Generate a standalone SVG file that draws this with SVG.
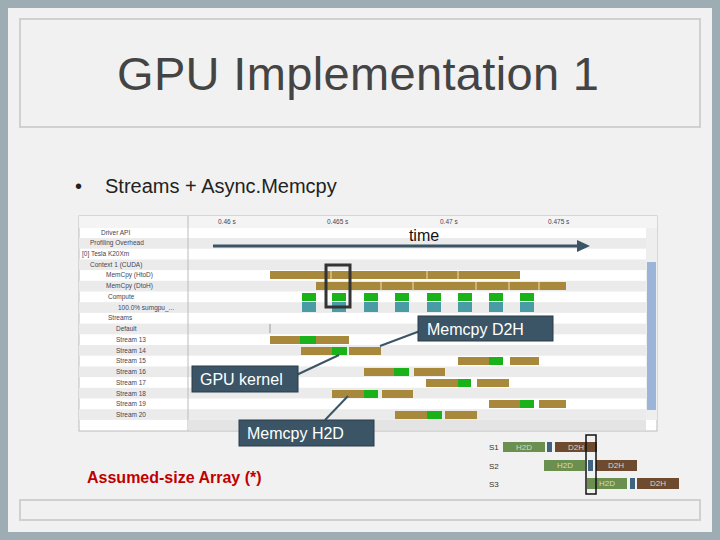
<svg xmlns="http://www.w3.org/2000/svg" width="720" height="540" viewBox="0 0 720 540">
<style>
text{font-family:"Liberation Sans",Arial,sans-serif}
.lbl{font-size:6.5px;fill:#445}
.br{fill:#a8883a}
.gr{fill:#19b219}
.tl{fill:#4a9ca4}
.co{fill:#3b5566;stroke:#2a3d49;stroke-width:1}
.ct{fill:#fff;font-size:16px}
.ln{stroke:#3b5566;stroke-width:2}
</style>
<rect width="720" height="540" fill="#9eadb4"/>
<rect x="8" y="8" width="704" height="524" fill="#f1f1f1"/>
<rect x="20" y="19" width="680" height="108" fill="none" stroke="#d0d0d0" stroke-width="2"/>
<rect x="20" y="500" width="680" height="20" fill="none" stroke="#d0d0d0" stroke-width="2"/>
<text x="358" y="90" font-size="47" fill="#444" text-anchor="middle" textLength="482">GPU Implementation 1</text>
<text x="75" y="193" font-size="20" fill="#222">•</text>
<text x="105" y="193" font-size="20" fill="#222">Streams + Async.Memcpy</text>

<g id="profiler">
<rect x="79" y="216" width="578" height="215" fill="#fff" stroke="#bbb"/>
<rect x="79" y="216" width="578" height="12" fill="#f4f4f4"/>
<g fill="#ebebeb">
<rect x="79" y="238" width="567" height="10.7"/><rect x="79" y="259.4" width="567" height="10.7"/>
<rect x="79" y="280.8" width="567" height="10.7"/><rect x="79" y="302.2" width="567" height="10.7"/>
<rect x="79" y="323.6" width="567" height="10.7"/><rect x="79" y="345" width="567" height="10.7"/>
<rect x="79" y="366.4" width="567" height="10.7"/><rect x="79" y="387.8" width="567" height="10.7"/>
<rect x="79" y="409.2" width="567" height="10.7"/>
</g>
<line x1="188" y1="216" x2="188" y2="431" stroke="#bbb"/>
<rect x="646" y="228" width="11" height="192" fill="#eee"/>
<rect x="647" y="262" width="9" height="148" fill="#9bb4d8"/>
<rect x="188" y="420" width="458" height="10" fill="#e4e4e4"/>
<text x="218" y="224" class="lbl">0.46 s</text><text x="327" y="224" class="lbl">0.465 s</text>
<text x="440" y="224" class="lbl">0.47 s</text><text x="548" y="224" class="lbl">0.475 s</text>
<text x="101" y="235" class="lbl">Driver API</text>
<text x="90" y="245" class="lbl">Profiling Overhead</text>
<text x="82" y="256" class="lbl">[0] Tesla K20Xm</text>
<text x="90" y="267" class="lbl">Context 1 (CUDA)</text>
<text x="106" y="277" class="lbl">MemCpy (HtoD)</text>
<text x="106" y="288" class="lbl">MemCpy (DtoH)</text>
<text x="108" y="299" class="lbl">Compute</text>
<text x="118" y="310" class="lbl">100.0% sumgpu_...</text>
<text x="108" y="320" class="lbl">Streams</text>
<text x="116" y="331" class="lbl">Default</text>
<text x="116" y="342" class="lbl">Stream 13</text><text x="116" y="353" class="lbl">Stream 14</text>
<text x="116" y="363" class="lbl">Stream 15</text><text x="116" y="374" class="lbl">Stream 16</text>
<text x="116" y="385" class="lbl">Stream 17</text><text x="116" y="396" class="lbl">Stream 18</text>
<text x="116" y="406" class="lbl">Stream 19</text><text x="116" y="417" class="lbl">Stream 20</text>

<rect class="br" x="270" y="271" width="250" height="8"/>
<rect class="br" x="316" y="282" width="250" height="8"/>
<g stroke="#f0e0b0" stroke-width="1">
<line x1="331" y1="271" x2="331" y2="279"/><line x1="427" y1="271" x2="427" y2="279"/><line x1="458" y1="271" x2="458" y2="279"/>
<line x1="381" y1="282" x2="381" y2="290"/><line x1="413" y1="282" x2="413" y2="290"/><line x1="476" y1="282" x2="476" y2="290"/><line x1="509" y1="282" x2="509" y2="290"/><line x1="539" y1="282" x2="539" y2="290"/>
</g>
<g>
<rect class="gr" x="302" y="293" width="14" height="8"/><rect class="tl" x="302" y="302" width="14" height="10"/>
<rect class="gr" x="332" y="293" width="14" height="8"/><rect class="tl" x="332" y="302" width="14" height="10"/>
<rect class="gr" x="364" y="293" width="14" height="8"/><rect class="tl" x="364" y="302" width="14" height="10"/>
<rect class="gr" x="395" y="293" width="14" height="8"/><rect class="tl" x="395" y="302" width="14" height="10"/>
<rect class="gr" x="427" y="293" width="14" height="8"/><rect class="tl" x="427" y="302" width="14" height="10"/>
<rect class="gr" x="458" y="293" width="14" height="8"/><rect class="tl" x="458" y="302" width="14" height="10"/>
<rect class="gr" x="489" y="293" width="14" height="8"/><rect class="tl" x="489" y="302" width="14" height="10"/>
<rect class="gr" x="520" y="293" width="14" height="8"/><rect class="tl" x="520" y="302" width="14" height="10"/>
</g>
<rect x="326" y="265" width="24" height="42" fill="none" stroke="#333" stroke-width="3"/>
<line x1="270" y1="324" x2="270" y2="333" stroke="#999"/>
<g>
<rect class="br" x="270" y="336" width="30" height="8"/><rect class="gr" x="300" y="336" width="16" height="8"/><rect class="br" x="316" y="336" width="33" height="8"/>
<rect class="br" x="301" y="347" width="31" height="8"/><rect class="gr" x="332" y="347" width="15" height="8"/><rect class="br" x="349" y="347" width="32" height="8"/>
<rect class="br" x="458" y="357" width="31" height="8"/><rect class="gr" x="489" y="357" width="14" height="8"/><rect class="br" x="510" y="357" width="29" height="8"/>
<rect class="br" x="364" y="368" width="30" height="8"/><rect class="gr" x="394" y="368" width="15" height="8"/><rect class="br" x="414" y="368" width="31" height="8"/>
<rect class="br" x="426" y="379" width="32" height="8"/><rect class="gr" x="458" y="379" width="13" height="8"/><rect class="br" x="477" y="379" width="32" height="8"/>
<rect class="br" x="332" y="390" width="32" height="8"/><rect class="gr" x="364" y="390" width="14" height="8"/><rect class="br" x="382" y="390" width="31" height="8"/>
<rect class="br" x="489" y="400" width="31" height="8"/><rect class="gr" x="520" y="400" width="14" height="8"/><rect class="br" x="539" y="400" width="27" height="8"/>
<rect class="br" x="395" y="411" width="32" height="8"/><rect class="gr" x="427" y="411" width="15" height="8"/><rect class="br" x="445" y="411" width="32" height="8"/>
</g>
</g>

<g id="time">
<line x1="213" y1="246" x2="580" y2="246" stroke="#3b5566" stroke-width="3"/>
<polygon points="577,240 590,246 577,252" fill="#3b5566"/>
<text x="424" y="241" font-size="16" fill="#111" text-anchor="middle">time</text>
</g>

<g id="connectors">
<line class="ln" x1="420" y1="331" x2="380" y2="346"/>
<line class="ln" x1="290" y1="378" x2="339" y2="355"/>
<line class="ln" x1="325" y1="420" x2="348" y2="396"/>
</g>
<g id="d2h"><rect class="co" x="418" y="316" width="135" height="25"/><text class="ct" x="427" y="335">Memcpy D2H</text></g>
<g id="kernel"><rect class="co" x="192" y="366" width="106" height="26"/><text class="ct" x="200" y="385">GPU kernel</text></g>
<g id="h2d"><rect class="co" x="239" y="420" width="135" height="26"/><text class="ct" x="247" y="439">Memcpy H2D</text></g>

<text x="87" y="483" font-size="16" font-weight="bold" fill="#c00000">Assumed-size Array (*)</text>

<g id="mini" font-family="Liberation Serif,serif" font-size="8">
<text x="489" y="450" fill="#333">S1</text><text x="489" y="469" fill="#333">S2</text><text x="489" y="487" fill="#333">S3</text>
<rect x="503" y="442" width="42" height="10" fill="#6b8f4e"/><rect x="547" y="442" width="5" height="10" fill="#3f6480"/><rect x="555" y="442" width="42" height="10" fill="#6e4a2e"/>
<rect x="544" y="460" width="41" height="11" fill="#6b8f4e"/><rect x="588" y="460" width="5" height="11" fill="#3f6480"/><rect x="596" y="460" width="41" height="11" fill="#6e4a2e"/>
<rect x="587" y="478" width="40" height="11" fill="#6b8f4e"/><rect x="630" y="478" width="5" height="11" fill="#3f6480"/><rect x="637" y="478" width="42" height="11" fill="#6e4a2e"/>
<g fill="#d8d8c8" text-anchor="middle">
<text x="524" y="450">H2D</text><text x="576" y="450">D2H</text>
<text x="565" y="468">H2D</text><text x="616" y="468">D2H</text>
<text x="607" y="486">H2D</text><text x="658" y="486">D2H</text>
</g>
<rect x="586" y="435" width="10" height="59" fill="none" stroke="#111" stroke-width="1.5"/>
</g>
</svg>
